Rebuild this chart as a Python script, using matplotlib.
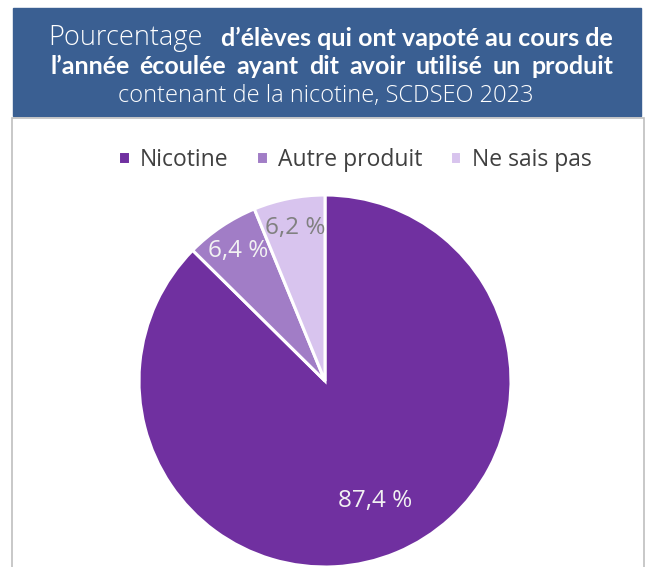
import matplotlib.pyplot as plt
import numpy as np
from matplotlib.patches import Rectangle

categories = ["Nicotine", "Autre produit", "Ne sais pas"]
values = [87.4, 6.4, 6.2]
pct_labels = ["87,4 %", "6,4 %", "6,2 %"]
colors = ["#7030a0", "#a17dc6", "#d8c4ee"]
label_colors = ["#f2f2f2", "#f2f2f2", "#808080"]
label_dist = [0.70, 0.84, 0.84]

W, H = 654, 567
fig = plt.figure(figsize=(W / 100, H / 100), dpi=100)

def fx(px):
    return px / W

def fy(py):
    return 1 - py / H

# title box
fig.patches.append(Rectangle((fx(13), fy(116)), fx(628), 108 / H,
                             transform=fig.transFigure, color="#3a5f92", zorder=0))
# chart panel border
fig.patches.append(Rectangle((fx(12), fy(575)), fx(632), 457 / H,
                             transform=fig.transFigure, facecolor="white",
                             edgecolor="#bfbfbf", lw=1.2, zorder=0))

renderer = fig.canvas.get_renderer()
light = dict(family="Open Sans", weight="light", size=19.5, color="white")
bold = dict(family="Lato", weight="bold", size=18, color="white")

# line 1 : light + bold, spread between 50 and 613
fig.text(fx(48), fy(38), "Pourcentage", ha="left", va="center", **light)
fig.text(fx(613), fy(38), "d’élèves qui ont vapoté au cours de", ha="right", va="center", **bold)

# line 2 : justified bold words
words = "l’année écoulée ayant dit avoir utilisé un produit".split()
ts = [fig.text(0, fy(67), w, ha="left", va="center", **bold) for w in words]
widths = [t.get_window_extent(renderer).width for t in ts]
gap = (613 - 50 - sum(widths)) / (len(words) - 1)
x = 50
for t, w in zip(ts, widths):
    t.set_x(fx(x))
    x += w + gap

# line 3 : light
line3 = dict(light, size=17)
fig.text(fx(326), fy(96), "contenant de la nicotine, SCDSEO 2023", ha="center", va="center", **line3)

# pie
cx, cy, r = 325, 381, 186
ax = fig.add_axes([fx(cx - r), fy(cy + r), 2 * r / W, 2 * r / H], zorder=2)
wedges, _ = ax.pie(values, colors=colors, startangle=90, counterclock=False,
                   wedgeprops=dict(edgecolor="white", linewidth=2.2))
ax.set_xlim(-1, 1)
ax.set_ylim(-1, 1)
ax.set_aspect("equal")
ax.axis("off")

for wdg, lab, c, d in zip(wedges, pct_labels, label_colors, label_dist):
    ang = np.deg2rad((wdg.theta1 + wdg.theta2) / 2)
    ax.text(d * np.cos(ang), d * np.sin(ang), lab, ha="center", va="center",
            color=c, fontsize=17.5, family="Open Sans")

fig.legend(wedges, categories, loc="center", bbox_to_anchor=(fx(355), fy(160)), ncol=3,
           frameon=False, prop=dict(family="Open Sans", size=16.5), labelcolor="#404040",
           handlelength=0.5, handleheight=0.5, handletextpad=0.45, columnspacing=1.2)

fig.savefig("out.png", dpi=100)
